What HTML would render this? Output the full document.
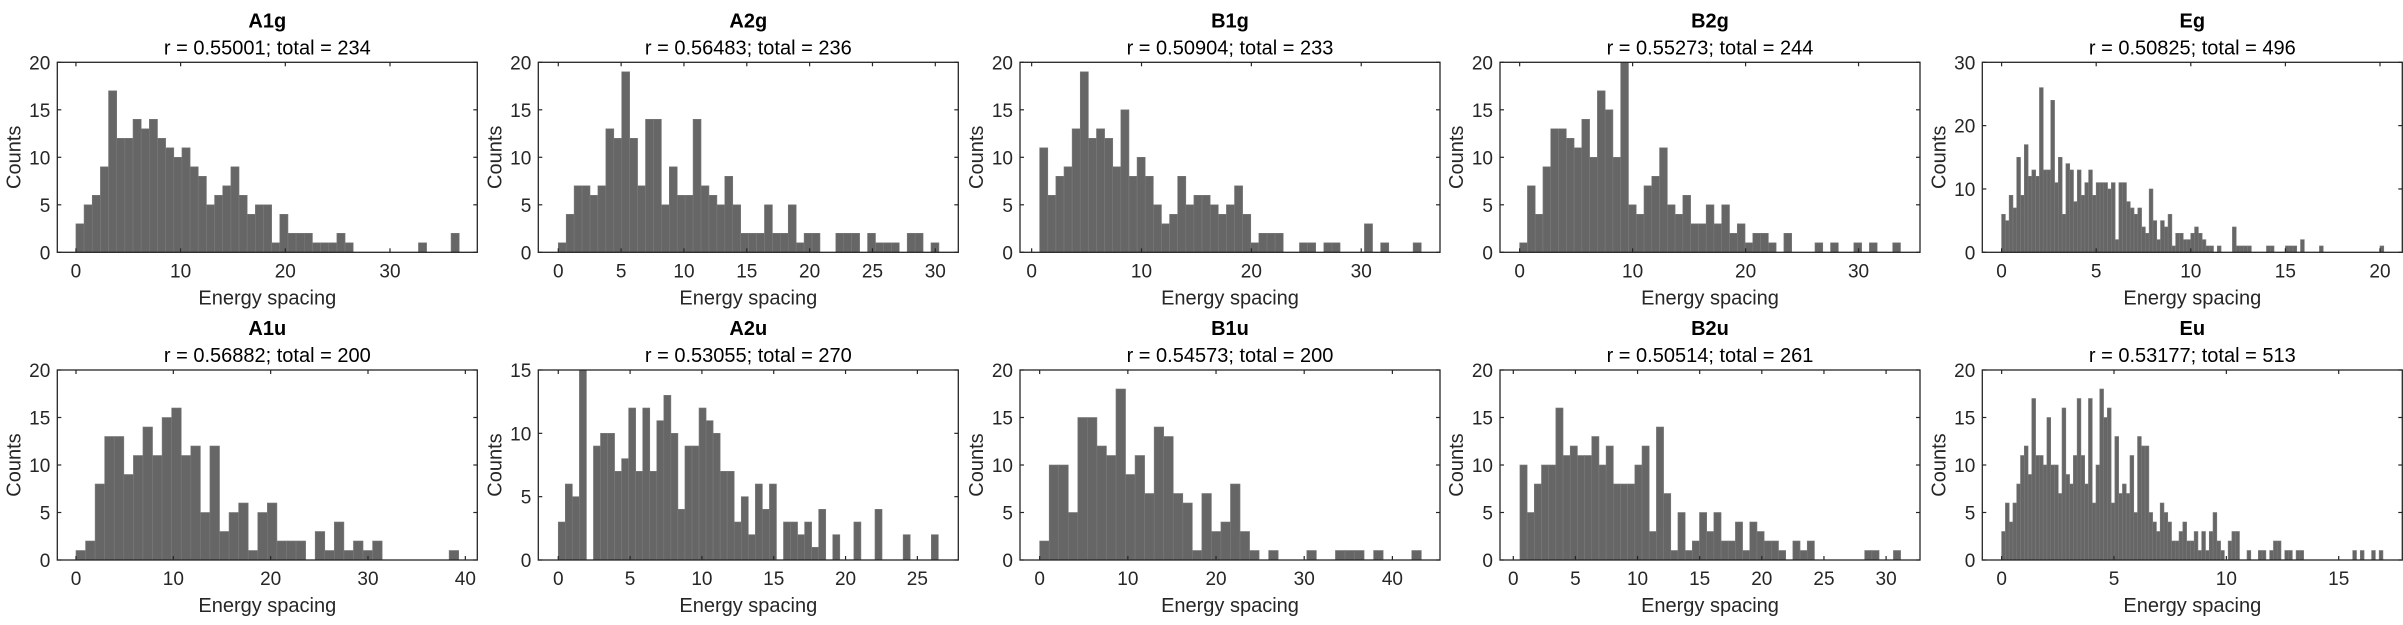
<!DOCTYPE html>
<html><head><meta charset="utf-8"><style>
html,body{margin:0;padding:0;background:#fff;}
svg{display:block;font-family:"Liberation Sans",Arial,sans-serif;}
</style></head><body>
<svg id="fig" width="2403" height="625" viewBox="0 0 2403 625" xmlns="http://www.w3.org/2000/svg"></svg>
<script>
// ---- data arrays ----
const panelNames = ["A1g","A2g","B1g","B2g","Eg","A1u","A2u","B1u","B2u","Eu"];
const rValues = ["0.55001","0.56483","0.50904","0.55273","0.50825","0.56882","0.53055","0.54573","0.50514","0.53177"];
const totals = [234,236,233,244,496,200,270,200,261,513];
const binStarts = [0,0,0.73,0,0,0,0,0,0.535,0];
const binWidths = [0.779,0.631,0.739,0.688,0.2,0.983,0.49,1.082,0.578,0.168];
const countsA1g = [3,5,6,9,17,12,12,14,13,14,12,11,10,11,9,8,5,6,7,9,6,4,5,5,1,4,2,2,2,1,1,1,2,1,0,0,0,0,0,0,0,0,1,0,0,0,2];
const countsA2g = [1,4,7,7,6,7,13,12,19,12,7,14,14,5,9,6,6,14,7,6,5,8,5,2,2,2,5,2,2,5,1,2,2,0,0,2,2,2,0,2,1,1,1,0,2,2,0,1];
const countsB1g = [11,6,8,9,13,19,12,13,12,9,15,8,10,8,5,3,4,8,5,6,6,5,4,5,7,4,1,2,2,2,0,0,1,1,0,1,1,0,0,0,3,0,1,0,0,0,1];
const countsB2g = [1,7,4,9,13,13,12,11,14,10,17,15,10,20,5,4,7,8,11,5,4,6,3,3,5,3,5,2,3,1,2,2,1,0,2,0,0,0,1,0,1,0,0,1,0,1,0,0,1];
const countsEg = [6,5,9,7,15,9,17,12,13,12,26,13,13,24,11,15,6,14,13,8,13,9,11,13,9,11,11,11,10,11,2,11,11,8,7,6,7,4,3,10,5,2,5,4,6,1,3,3,2,2,3,4,3,2,1,1,0,1,0,0,0,4,1,1,1,1,0,0,0,0,1,1,0,0,0,1,1,1,0,2,0,0,0,0,1,0,0,0,0,0,0,0,0,0,0,0,0,0,0,0,1];
const countsA1u = [1,2,8,13,13,9,11,14,11,15,16,11,12,5,12,3,5,6,1,5,6,2,2,2,0,3,1,4,1,2,1,2,0,0,0,0,0,0,0,1];
const countsA2u = [3,6,5,15,0,9,10,10,7,8,12,7,12,7,11,13,10,4,9,9,12,11,10,7,7,3,5,2,6,4,6,0,3,3,2,3,1,4,0,2,0,0,3,0,0,4,0,0,0,2,0,0,0,2];
const countsB1u = [2,10,10,5,15,15,12,11,18,9,11,7,14,13,7,6,1,7,3,4,8,3,1,0,1,0,0,0,1,0,0,1,1,1,0,1,0,0,0,1];
const countsB2u = [10,5,8,10,10,16,11,12,11,11,13,10,12,8,8,8,10,12,3,14,7,1,5,1,2,5,3,5,2,2,4,1,4,3,2,2,1,0,2,1,2,0,0,0,0,0,0,0,1,1,0,0,1];
const countsEu = [3,6,4,6,8,11,12,9,17,11,11,10,15,10,10,7,16,9,8,11,17,11,8,17,6,10,18,15,16,6,13,7,8,7,11,5,13,12,12,5,4,3,6,5,4,2,2,3,4,2,2,3,1,3,1,3,5,2,1,0,2,3,3,0,0,1,0,0,1,1,0,1,2,2,0,1,1,0,1,1,0,0,0,0,0,0,0,0,0,0,0,0,0,1,0,1,0,0,1,0,1];
const xMins = [-1.78,-1.59,-1.06,-1.74,-1.02,-1.92,-1.39,-2.23,-1.07,-0.86];
const xMaxs = [38.34,31.83,37.17,35.44,21.18,41.23,27.85,45.4,32.73,17.83];
const yMaxs = [20,20,20,20,30,20,15,20,20,20];
const xTicksList = [[0,10,20,30],[0,5,10,15,20,25,30],[0,10,20,30],[0,10,20,30],[0,5,10,15,20],[0,10,20,30,40],[0,5,10,15,20,25],[0,10,20,30,40],[0,5,10,15,20,25,30],[0,5,10,15]];
const yTicksList = [[0,5,10,15,20],[0,5,10,15,20],[0,5,10,15,20],[0,5,10,15,20],[0,10,20,30],[0,5,10,15,20],[0,5,10,15],[0,5,10,15,20],[0,5,10,15,20],[0,5,10,15,20]];
const allCounts = [countsA1g,countsA2g,countsB1g,countsB2g,countsEg,countsA1u,countsA2u,countsB1u,countsB2u,countsEu];

// ---- layout ----
const colLeft = [57.3,538.3,1020,1500,1982.3];
const axW = 420;
const rowTop = [62.3,370];
const axH = 190;
const NS = "http://www.w3.org/2000/svg";
const svg = document.getElementById('fig');
function mk(tag, attrs, parent){
  const e = document.createElementNS(NS, tag);
  for (const k in attrs) e.setAttribute(k, attrs[k]);
  (parent||svg).appendChild(e);
  return e;
}
for (let p = 0; p < 10; p++) {
  const L = colLeft[p % 5], T = rowTop[Math.floor(p / 5)];
  const R = Math.min(L + axW, 2402.5), B = T + axH;
  const xs = v => L + (v - xMins[p]) / (xMaxs[p] - xMins[p]) * (R - L);
  const ys = v => B - v / yMaxs[p] * axH;
  const g = mk('g', {});
  
  
  const counts = allCounts[p];
  for (let i = 0; i < counts.length; i++) {
    if (!counts[i]) continue;
    const x0 = xs(binStarts[p] + i * binWidths[p]), x1 = xs(binStarts[p] + (i + 1) * binWidths[p]);
    const r = mk('rect', {x: x0, y: ys(counts[i]), width: x1 - x0, height: B - ys(counts[i]), fill: '#666666', stroke: '#7a7a7a', 'stroke-width': 0.6}, g);
    
    
  }
  const box = mk('rect', {x: L, y: T, width: R - L, height: axH, fill: 'none', stroke: '#262626', 'stroke-width': 1.3}, g);
  
  
  xTicksList[p].forEach(t => {
    const x = xs(t);
    mk('line', {x1: x, y1: B, x2: x, y2: B - 4, stroke: '#262626', 'stroke-width': 1.2}, g);
    mk('line', {x1: x, y1: T, x2: x, y2: T + 4, stroke: '#262626', 'stroke-width': 1.2}, g);
    const tx = mk('text', {x: x, y: B + 25, 'font-size': 19, fill: '#262626', 'text-anchor': 'middle'}, g);
    tx.textContent = t;
    
    
  });
  yTicksList[p].forEach(t => {
    const y = ys(t);
    mk('line', {x1: L, y1: y, x2: L + 4, y2: y, stroke: '#262626', 'stroke-width': 1.2}, g);
    mk('line', {x1: R, y1: y, x2: R - 4, y2: y, stroke: '#262626', 'stroke-width': 1.2}, g);
    const ty = mk('text', {x: L - 7, y: y + 7, 'font-size': 19, fill: '#262626', 'text-anchor': 'end'}, g);
    ty.textContent = t;
    
    
  });
  const xl = mk('text', {x: (L + R) / 2, y: B + 52, 'font-size': 20, fill: '#262626', 'text-anchor': 'middle'}, g);
  xl.textContent = 'Energy spacing';
  
  
  const yl = mk('text', {x: 0, y: 0, 'font-size': 20, fill: '#262626', 'text-anchor': 'middle', transform: 'translate(' + (L - 37) + ',' + (T + axH / 2) + ') rotate(-90)'}, g);
  yl.textContent = 'Counts';
  
  
  const tt = mk('text', {x: (L + R) / 2, y: T - 35, 'font-size': 20, 'font-weight': 'bold', fill: '#000', 'text-anchor': 'middle'}, g);
  tt.textContent = panelNames[p];
  
  
  const st = mk('text', {x: (L + R) / 2, y: T - 8, 'font-size': 20, fill: '#000', 'text-anchor': 'middle'}, g);
  st.textContent = 'r = ' + rValues[p] + '; total = ' + totals[p];
  
  
}
</script>
</body></html>
